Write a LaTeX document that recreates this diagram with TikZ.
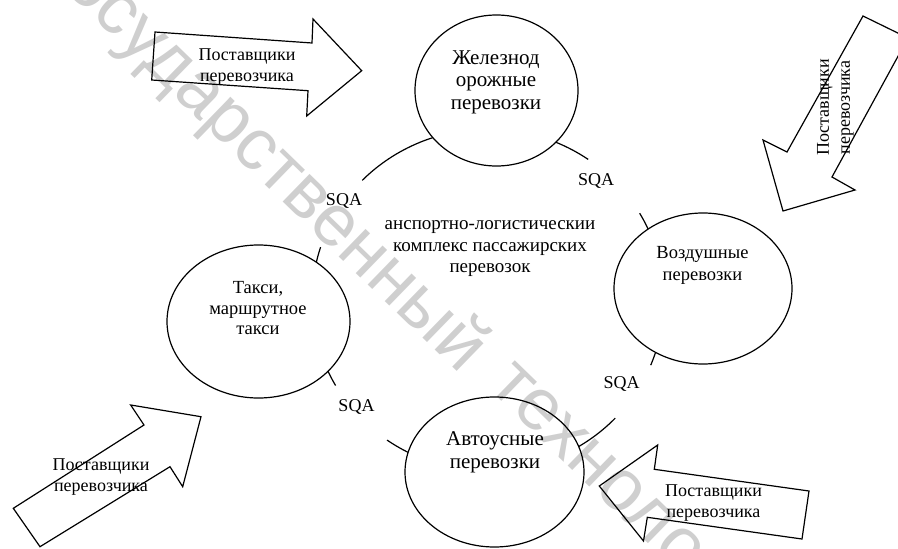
\documentclass[tikz,border=0pt]{standalone}
\usepackage{fontspec}
\setmainfont{Liberation Serif}
\newfontfamily\wmfont{Liberation Sans}
\usetikzlibrary{shapes.geometric}
\begin{document}
\begin{tikzpicture}[x=1pt,y=-1pt,
  ln/.style={line width=1.2pt, line join=miter},
  ell/.style={ellipse, draw, line width=1.2pt, inner sep=0pt},
  txt/.style={align=center, font=\fontsize{18}{21}\selectfont, inner sep=0pt},
  sqa/.style={font=\fontsize{18}{21}\selectfont, inner sep=0pt},
  wmark/.style={rotate=-44.2, anchor=base west, text=gray!38, inner sep=0pt,
      font=\wmfont\fontsize{73}{73}\selectfont},
]
\useasboundingbox (0,0) rectangle (898,549);
\clip (0,0) rectangle (898,549);
% watermark
\node[wmark] (wm1) at (36,-38) {Государственный};
\node[wmark] (wm2) at (487,387) {технологический};
% ring segments (outside the ellipses)
\begin{scope}[even odd rule]
\clip (-5,-5) rectangle (905,555)
  (496.5,90.5) ellipse [x radius=81.5pt, y radius=75.5pt]
  (703,288.5) ellipse [x radius=89pt, y radius=75.5pt]
  (258.5,321.5) ellipse [x radius=91.5pt, y radius=76.5pt]
  (494.5,472) ellipse [x radius=89.5pt, y radius=75pt];
\foreach \a/\b in {-135.6/-100, -75/-55.3, -30.5/-15, 15/22.4, 43.7/65, 110/125, 150/160, -175/-162}
  \draw[ln] plot[domain=\a:\b, samples=25, smooth] ({488+176*cos(\x)},{300+171*sin(\x)});
\end{scope}
% ellipses
\node[ell, minimum width=163pt, minimum height=151pt] (e1) at (496.5,90.5) {};
\node[ell, minimum width=178pt, minimum height=151pt] (e2) at (703,288.5) {};
\node[ell, minimum width=183pt, minimum height=153pt] (e3) at (258.5,321.5) {};
\node[ell, minimum width=179pt, minimum height=150pt] (e4) at (494.5,472) {};
% block arrows
\draw[ln] (155,32) -- (312,43) -- (313,19) -- (361.7,70.7) -- (306.7,116) -- (308,90.7) -- (151.7,80) -- cycle;
\draw[ln] (863,16) -- (908,38) -- (832,177) -- (855,190) -- (783,211) -- (763,140) -- (787,152) -- cycle;
\draw[ln] (13.3,508.3) -- (144,425) -- (130.7,405) -- (201,416.7) -- (182.7,486.7) -- (170,466.7) -- (40,546.7) -- cycle;
\draw[ln] (599.3,486) -- (657.7,445) -- (654.3,469.3) -- (809,491) -- (802,539) -- (647.3,517.3) -- (643.5,541) -- cycle;
% texts
\node[txt] (t1) at (247,67) {Поставщики\\перевозчика};
\node[txt, rotate=90] (t2) at (835.5,107.5) {Поставщики\\перевозчика};
\node[txt] (t3) at (101,477) {Поставщики\\перевозчика};
\node[txt] (t4) at (713.5,503) {Поставщики\\перевозчика};
\node[txt, font=\fontsize{21}{22.5}\selectfont] (l1) at (496,82) {Железнод\\орожные\\перевозки};
\node[txt, font=\fontsize{18.5}{22}\selectfont] (l2) at (702.5,265) {Воздушные\\перевозки};
\node[txt, font=\fontsize{18.5}{20.5}\selectfont] (l3) at (258,308.5) {Такси,\\маршрутное\\такси};
\node[txt, font=\fontsize{21}{23}\selectfont] (l4) at (495,452) {Автоусные\\перевозки};
\node[txt, font=\fontsize{19}{21.5}\selectfont] (ctr) at (490,249) {анспортно-логистическии\\комплекс пассажирских\\перевозок};
\node[sqa] (s1) at (344,201) {SQA};
\node[sqa] (s2) at (596,181) {SQA};
\node[sqa] (s3) at (621.5,384) {SQA};
\node[sqa] (s4) at (356.5,407) {SQA};
\end{tikzpicture}
\end{document}
